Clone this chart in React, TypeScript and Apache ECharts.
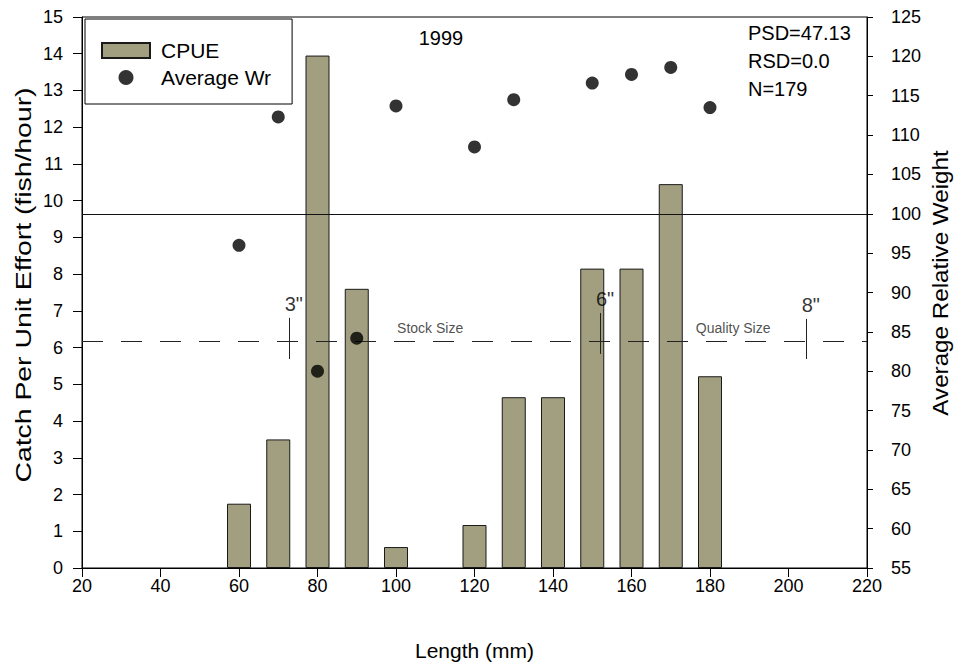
import React, { useEffect, useRef } from "react";
import * as echarts from "echarts";

// ---- data ----
const lengths = [60, 70, 80, 90, 100, 120, 130, 140, 150, 160, 170, 180];
const cpue = [1.75, 3.5, 13.95, 7.6, 0.57, 1.17, 4.65, 4.65, 8.15, 8.15, 10.45, 5.22];
const wrLengths = [60, 70, 80, 90, 100, 120, 130, 150, 160, 170, 180];
const avgWr = [96.0, 112.3, 80.0, 84.2, 113.7, 108.5, 114.5, 116.6, 117.7, 118.6, 113.5];
const wrReference = 100;
const sizeLineLevel = 6.16;
const inchLabels = ['3"', '6"', '8"'];
const inchPositions = [72.7, 152, 204.4];
const inchLow = [5.69, 5.83, 5.69];
const inchHigh = [6.81, 6.94, 6.78];
const sizeLabels = ["Stock Size", "Quality Size"];
const sizeLabelX = [108.7, 185.9];
const sizeLabelY = 6.54;
const yearLabel = "1999";
const statLines = ["PSD=47.13", "RSD=0.0", "N=179"];
const leftTitle = "Catch Per Unit Effort (fish/hour)";
const rightTitle = "Average Relative Weight";
const bottomTitle = "Length (mm)";

const FONT = "'Liberation Sans', Arial, sans-serif";

export default function App() {
  const ref = useRef<HTMLDivElement>(null);
  useEffect(() => {
    document.body.style.margin = "0";
    const chart = echarts.init(ref.current!, undefined, { renderer: "svg" });
    const black = "#000";
    const option: any = {
      animation: false,
      backgroundColor: "#fff",
      textStyle: { fontFamily: FONT, color: black },
      grid: {
        left: 82,
        right: 91,
        top: 17,
        bottom: 102,
        show: true,
        borderColor: black,
        borderWidth: 1,
        containLabel: false,
      },
      legend: {
        left: 85,
        top: 19,
        orient: "vertical",
        padding: [21, 21, 16, 16],
        borderColor: black,
        borderWidth: 1,
        backgroundColor: "#fff",
        itemWidth: 48,
        itemHeight: 15,
        itemGap: 6,
        textStyle: { fontSize: 21, color: black, fontFamily: FONT, padding: [0, 0, 0, 6] },
        data: [
          { name: "CPUE", icon: "rect" },
          { name: "Average Wr", icon: "circle" },
        ],
      },
      xAxis: {
        type: "value",
        min: 20,
        max: 220,
        interval: 20,
        axisLine: { show: true, lineStyle: { color: black, width: 1 } },
        axisTick: { show: true, length: 9, lineStyle: { color: black } },
        axisLabel: { fontSize: 18, color: black, margin: 9, fontFamily: FONT },
        splitLine: { show: false },
        name: bottomTitle,
        nameLocation: "middle",
        nameGap: 72,
        nameTextStyle: { fontSize: 21, color: black, fontFamily: FONT },
      },
      yAxis: [
        {
          type: "value",
          position: "left",
          min: 0,
          max: 15,
          interval: 1,
          axisLine: { show: true, lineStyle: { color: black, width: 1 } },
          axisTick: { show: true, length: 9, lineStyle: { color: black } },
          axisLabel: { fontSize: 18, color: black, margin: 19, fontFamily: FONT },
          splitLine: { show: false },
        },
        {
          type: "value",
          position: "right",
          min: 55,
          max: 125,
          interval: 5,
          axisLine: { show: true, lineStyle: { color: black, width: 1 } },
          axisTick: { show: true, length: 6, lineStyle: { color: black } },
          axisLabel: { fontSize: 18, color: black, margin: 24, fontFamily: FONT },
          splitLine: { show: false },
        },
      ],
      series: [
        {
          name: "CPUE",
          type: "bar",
          xAxisIndex: 0,
          yAxisIndex: 0,
          barWidth: 24,
          data: lengths.map((l, i) => [l, cpue[i]]),
          itemStyle: { color: "#a19f7f", borderColor: "#1a1a1a", borderWidth: 1 },
          z: 2,
          markLine: {
            silent: true,
            symbol: "none",
            z: 5,
            label: { show: false },
            data: [
              {
                yAxis: sizeLineLevel,
                lineStyle: { color: "#222", width: 1, type: [21, 18] },
              },
              ...inchPositions.map((m, i) => [
                { coord: [m, inchLow[i]], lineStyle: { color: "#222", width: 1, type: "solid" } },
                { coord: [m, inchHigh[i]] },
              ]),
            ],
          },
        },
        {
          name: "Average Wr",
          type: "scatter",
          xAxisIndex: 0,
          yAxisIndex: 1,
          symbol: "circle",
          symbolSize: 13,
          itemStyle: { color: black },
          data: wrLengths.map((l, i) => [l, avgWr[i]]),
          z: 6,
          markLine: {
            silent: true,
            symbol: "none",
            z: 5,
            label: { show: false },
            lineStyle: { color: "#111", width: 1, type: "solid" },
            data: [{ yAxis: wrReference }],
          },
        },
        {
          name: "inchLabels",
          type: "scatter",
          xAxisIndex: 0,
          yAxisIndex: 0,
          symbolSize: 0,
          silent: true,
          z: 7,
          data: inchPositions.map((m, i) => ({ value: [m, inchHigh[i]], name: inchLabels[i] })),
          label: {
            show: true,
            position: "top",
            distance: 4,
            offset: [5, 0],
            formatter: (p: any) => p.name,
            fontSize: 20,
            color: black,
            fontFamily: FONT,
          },
        },
        {
          name: "sizeLabels",
          type: "scatter",
          xAxisIndex: 0,
          yAxisIndex: 0,
          symbolSize: 0,
          silent: true,
          z: 7,
          data: sizeLabelX.map((m, i) => ({ value: [m, sizeLabelY], name: sizeLabels[i] })),
          label: {
            show: true,
            position: "inside",
            formatter: (p: any) => p.name,
            fontSize: 14,
            color: "#222",
            fontFamily: FONT,
          },
        },
      ],
      graphic: [
        {
          type: "text",
          x: 441,
          y: 38,
          style: {
            text: yearLabel,
            fontSize: 20,
            fill: black,
            fontFamily: FONT,
            align: "center",
            verticalAlign: "middle",
          },
        },
        ...statLines.map((t, i) => ({
          type: "text",
          x: 748,
          y: [33, 61, 89][i],
          style: {
            text: t,
            fontSize: 20,
            fill: black,
            fontFamily: FONT,
            align: "left",
            verticalAlign: "middle",
          },
        })),
        {
          type: "text",
          x: 23,
          y: 285,
          rotation: Math.PI / 2,
          scaleX: 1.29,
          scaleY: 1,
          style: {
            text: leftTitle,
            fontSize: 22,
            fill: black,
            fontFamily: FONT,
            align: "center",
            verticalAlign: "middle",
          },
        },
        {
          type: "text",
          x: 940,
          y: 283,
          rotation: Math.PI / 2,
          scaleX: 1.1,
          scaleY: 1,
          style: {
            text: rightTitle,
            fontSize: 22,
            fill: black,
            fontFamily: FONT,
            align: "center",
            verticalAlign: "middle",
          },
        },
      ],
    };
    chart.setOption(option);
    return () => chart.dispose();
  }, []);
  return <div ref={ref} style={{ width: 958, height: 670 }} />;
}
